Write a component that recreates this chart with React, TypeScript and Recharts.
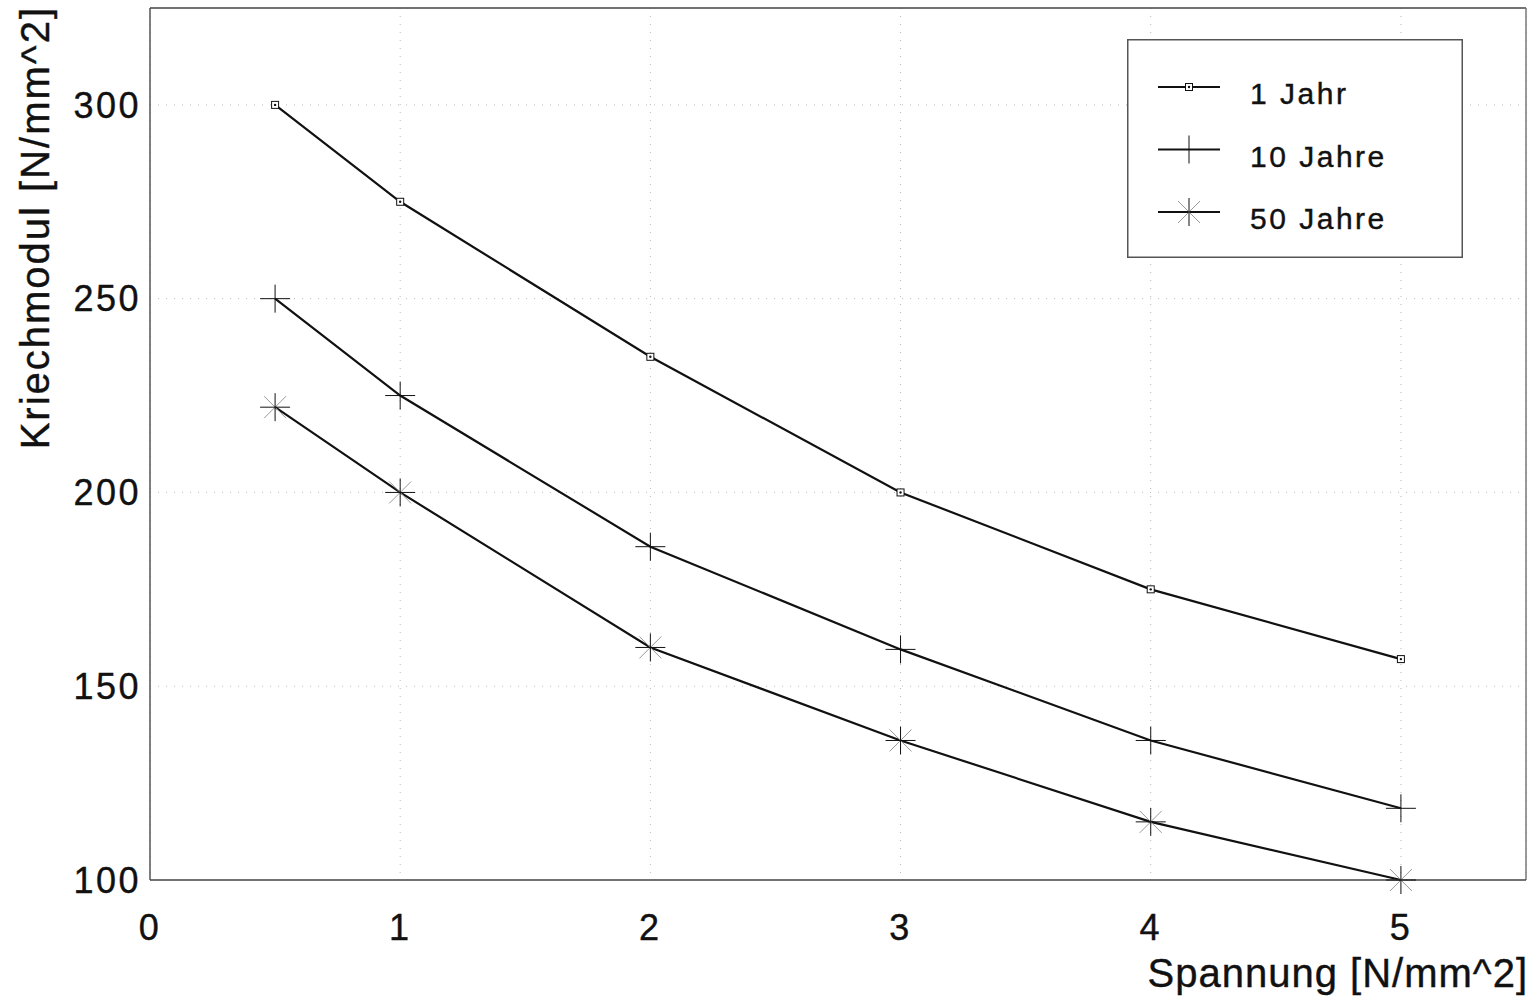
import {
  LineChart,
  Line,
  XAxis,
  YAxis,
  CartesianGrid,
  ReferenceLine,
  Legend,
} from "recharts";

// Kriechmodul über Spannung
const stress = [0.5, 1, 2, 3, 4, 5];
const oneYear = [300, 275, 235, 200, 175, 157];
const tenYears = [250, 225, 186, 159.5, 136, 118.5];
const fiftyYears = [222, 200, 160, 136, 115, 100];

const seriesNames = ["1 Jahr", "10 Jahre", "50 Jahre"];
const xTicks = [0, 1, 2, 3, 4, 5];
const yTicks = [100, 150, 200, 250, 300];

const FONT = '"Liberation Sans", Arial, Helvetica, sans-serif';
const INK = "#111";

const data = stress.map((x, i) => ({
  x,
  a: oneYear[i],
  b: tenYears[i],
  c: fiftyYears[i],
}));

function SquareMark({ cx, cy }: { cx: number; cy: number }) {
  return (
    <g>
      <rect x={cx - 3.5} y={cy - 3.5} width={7} height={7} fill="#fff" stroke={INK} strokeWidth={1} />
      <circle cx={cx} cy={cy} r={1.2} fill={INK} />
    </g>
  );
}

function PlusMark({ cx, cy }: { cx: number; cy: number }) {
  return (
    <g stroke={INK} strokeWidth={1}>
      <line x1={cx - 15} x2={cx + 15} y1={cy} y2={cy} />
      <line x1={cx} x2={cx} y1={cy - 14} y2={cy + 14} />
    </g>
  );
}

function StarMark({ cx, cy }: { cx: number; cy: number }) {
  return (
    <g>
      <g stroke="#999" strokeWidth={1}>
        <line x1={cx - 11} x2={cx + 11} y1={cy - 11} y2={cy + 11} />
        <line x1={cx - 11} x2={cx + 11} y1={cy + 11} y2={cy - 11} />
      </g>
      <g stroke={INK} strokeWidth={1}>
        <line x1={cx - 15} x2={cx + 15} y1={cy} y2={cy} />
        <line x1={cx} x2={cx} y1={cy - 14} y2={cy + 14} />
      </g>
    </g>
  );
}

const markers: Record<string, (p: { cx: number; cy: number }) => JSX.Element> = {
  a: SquareMark,
  b: PlusMark,
  c: StarMark,
};

function LegendBox(props: any) {
  const payload = props.payload ?? [];
  return (
    <svg width={336} height={219} style={{ display: "block" }}>
      <rect x={0.75} y={0.75} width={334.5} height={217.5} fill="#fff" stroke="#555" strokeWidth={1.5} />
      {payload.map((entry: any, i: number) => {
        const y = 48 + i * 62.5;
        const Mark = markers[entry.dataKey as string];
        return (
          <g key={entry.value}>
            <line x1={31} x2={93} y1={y} y2={y} stroke={INK} strokeWidth={2} />
            <Mark cx={62} cy={y} />
            <text
              x={123}
              y={y + 17}
              fontSize={30}
              fontFamily={FONT}
              letterSpacing={2.5}
              fill={INK}
              stroke={INK}
              strokeWidth={0.4}
            >
              {entry.value}
            </text>
          </g>
        );
      })}
    </svg>
  );
}

function YTitle(props: any) {
  const vb = props.viewBox ?? { x: 0, y: 8 };
  const x = vb.x + 49;
  const y = vb.y - 2;
  return (
    <text
      x={x}
      y={y}
      transform={`rotate(-90, ${x}, ${y})`}
      textAnchor="end"
      fontSize={40}
      fontFamily={FONT}
      letterSpacing={2}
      fill={INK}
      stroke={INK}
      strokeWidth={0.4}
    >
      Kriechmodul [N/mm^2]
    </text>
  );
}

function XTitle(props: any) {
  const vb = props.viewBox ?? { x: 150, y: 880, width: 1376 };
  return (
    <text
      x={vb.x + vb.width + 2}
      y={vb.y + 107}
      textAnchor="end"
      fontSize={40}
      fontFamily={FONT}
      letterSpacing={1}
      fill={INK}
      stroke={INK}
      strokeWidth={0.4}
    >
      Spannung [N/mm^2]
    </text>
  );
}

const tickStyle = {
  fontSize: 36,
  fill: INK,
  fontFamily: FONT,
  letterSpacing: 2.5,
  stroke: INK,
  strokeWidth: 0.4,
};

export default function App() {
  return (
    <div style={{ position: "absolute", left: 0, top: 0, background: "#fff" }}>
      <LineChart
        width={1540}
        height={1001}
        data={data}
        margin={{ top: 8, right: 14, left: 0, bottom: 0 }}
      >
        <CartesianGrid stroke="#bbb" strokeDasharray="1 7" />
        <XAxis
          dataKey="x"
          type="number"
          domain={[0, 5.5]}
          ticks={xTicks}
          height={121}
          tickLine={false}
          tickSize={0}
          tickMargin={34}
          axisLine={{ stroke: "#444", strokeWidth: 1.5 }}
          tick={tickStyle}
          label={{ content: (p: any) => <XTitle {...p} /> }}
        />
        <YAxis
          type="number"
          domain={[100, 325]}
          ticks={yTicks}
          width={150}
          tickLine={false}
          tickSize={0}
          tickMargin={9}
          axisLine={{ stroke: "#555", strokeWidth: 1.5 }}
          tick={tickStyle}
          label={{ content: (p: any) => <YTitle {...p} /> }}
        />
        <ReferenceLine y={325} stroke="#444" strokeWidth={1.5} />
        <ReferenceLine x={5.5} stroke="#777" strokeWidth={1.5} />
        <Legend
          layout="horizontal"
          verticalAlign="middle"
          align="center"
          wrapperStyle={{ left: 1127, top: 39, width: 336, height: 219 }}
          content={(p: any) => <LegendBox {...p} />}
        />
        <Line
          dataKey="a"
          name={seriesNames[0]}
          type="linear"
          stroke={INK}
          strokeWidth={2.2}
          isAnimationActive={false}
          dot={(p: any) => <SquareMark key={`a${p.index}`} cx={p.cx} cy={p.cy} />}
        />
        <Line
          dataKey="b"
          name={seriesNames[1]}
          type="linear"
          stroke={INK}
          strokeWidth={2.2}
          isAnimationActive={false}
          dot={(p: any) => <PlusMark key={`b${p.index}`} cx={p.cx} cy={p.cy} />}
        />
        <Line
          dataKey="c"
          name={seriesNames[2]}
          type="linear"
          stroke={INK}
          strokeWidth={2.2}
          isAnimationActive={false}
          dot={(p: any) => <StarMark key={`c${p.index}`} cx={p.cx} cy={p.cy} />}
        />
      </LineChart>
    </div>
  );
}
